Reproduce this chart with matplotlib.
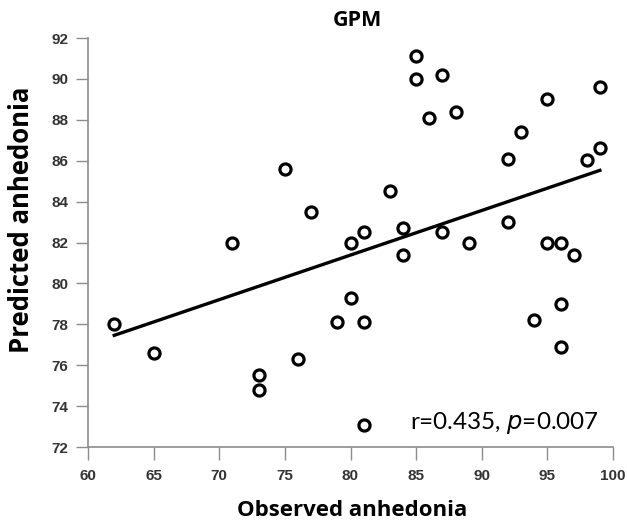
import numpy as np
import matplotlib
matplotlib.use("Agg")
import matplotlib.pyplot as plt

observed = [62, 65, 71, 73, 73, 75, 76, 77, 79, 80, 80, 81, 81, 81, 83, 84, 84,
            85, 85, 86, 87, 87, 88, 89, 92, 92, 93, 94, 95, 95, 96, 96, 96, 97,
            98, 99, 99]
predicted = [78.0, 76.6, 82.0, 75.5, 74.8, 85.6, 76.3, 83.5, 78.1, 79.3, 82.0,
             82.5, 78.1, 73.1, 84.5, 82.7, 81.4, 91.1, 90.0, 88.1, 90.2, 82.5,
             88.4, 82.0, 86.1, 83.0, 87.4, 78.2, 89.0, 82.0, 82.0, 79.0, 76.9,
             81.4, 86.05, 89.6, 86.6]
xticks = [60, 65, 70, 75, 80, 85, 90, 95, 100]
yticks = [72, 74, 76, 78, 80, 82, 84, 86, 88, 90, 92]
title = "GPM"
xlabel = "Observed anhedonia"
ylabel = "Predicted anhedonia"

W, H = 627, 525
fig = plt.figure(figsize=(W / 100, H / 100), dpi=100)
ax = fig.add_axes([88 / W, 1 - 447 / H, (613 - 88) / W, (447 - 38) / H])

x = np.array(observed, dtype=float)
y = np.array(predicted, dtype=float)
slope, intercept = np.polyfit(x, y, 1)
xl = np.array([x.min(), x.max()])
ax.plot(xl, slope * xl + intercept, color="black", lw=2.4, zorder=2)
ax.plot(x, y, linestyle="none", marker="o", ms=8, mfc="white",
        mec="black", mew=2.3, zorder=3)

ax.set_xlim(60, 100)
ax.set_ylim(72, 92)
ax.set_xticks(xticks)
ax.set_yticks(yticks)
for s in ["top", "right"]:
    ax.spines[s].set_visible(False)
for s in ["left", "bottom"]:
    ax.spines[s].set_color("#8c8c8c")
    ax.spines[s].set_linewidth(1.2)
ax.tick_params(axis="both", direction="out", length=9, width=1.0,
               color="#8c8c8c", labelcolor="#333333", labelsize=11, pad=5)
ax.tick_params(axis="x", pad=7)
for lab in ax.get_xticklabels() + ax.get_yticklabels():
    lab.set_fontfamily("Liberation Sans")
    lab.set_fontweight("bold")

fig.text(357 / W, 1 - 20 / H, title, fontsize=15.5, fontweight="bold",
         family="Open Sans", ha="center", va="center")
fig.text(352 / W, 1 - 511 / H, xlabel, fontsize=16, fontweight="bold",
         family="Open Sans", ha="center", va="center")
fig.text(22 / W, 1 - 220 / H, ylabel, fontsize=18.5, fontweight="bold",
         family="Open Sans", ha="center", va="center", rotation=90)

ax.text(98.9, 73.15, r"r=0.435, $\it{p}$=0.007", ha="right", va="center",
        fontsize=17.5, family="Lato")

fig.savefig("out.png", dpi=100, facecolor="white")
